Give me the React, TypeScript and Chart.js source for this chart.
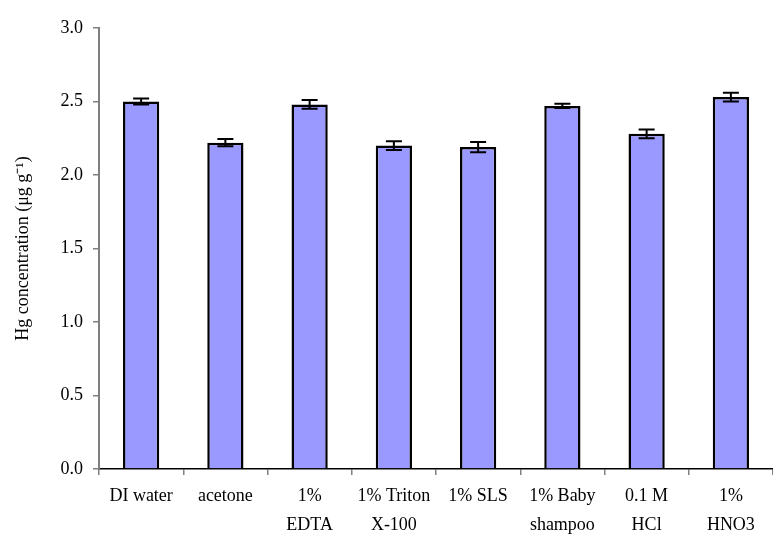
import { useEffect, useRef } from 'react';
import { Chart, registerables } from 'chart.js';

Chart.register(...registerables);

// Washing agents tested (multi-line labels as printed under each bar)
const categories: string[][] = [
  ['DI water'],
  ['acetone'],
  ['1%', 'EDTA'],
  ['1% Triton', 'X-100'],
  ['1% SLS'],
  ['1% Baby', 'shampoo'],
  ['0.1 M', 'HCl'],
  ['1%', 'HNO3'],
];

// Mean Hg concentration (µg g-1) and standard deviation for each agent
const hgMeans = [2.5, 2.22, 2.48, 2.2, 2.19, 2.47, 2.28, 2.53];
const hgErrors = [0.02, 0.025, 0.03, 0.03, 0.035, 0.015, 0.03, 0.03];

// Value axis range and step
const yMin = 0;
const yMax = 3.0;
const yStep = 0.5;

const FONT = "'Liberation Serif', 'Times New Roman', serif";

// Draws symmetric error bars with caps on top of each bar
const errorBarsPlugin = {
  id: 'errorBars',
  afterDatasetsDraw(chart: any) {
    const { ctx } = chart;
    const y = chart.scales.y;
    const meta = chart.getDatasetMeta(0);
    const cap = 8;
    ctx.save();
    ctx.strokeStyle = '#000000';
    ctx.lineWidth = 2;
    meta.data.forEach((bar: any, i: number) => {
      const x = bar.x;
      const top = y.getPixelForValue(hgMeans[i] + hgErrors[i]);
      const bot = y.getPixelForValue(hgMeans[i] - hgErrors[i]);
      ctx.beginPath();
      ctx.moveTo(x, top);
      ctx.lineTo(x, bot);
      ctx.moveTo(x - cap, top);
      ctx.lineTo(x + cap, top);
      ctx.moveTo(x - cap, bot);
      ctx.lineTo(x + cap, bot);
      ctx.stroke();
    });
    ctx.restore();
  },
};

export default function App() {
  const canvasRef = useRef<HTMLCanvasElement | null>(null);

  useEffect(() => {
    if (!canvasRef.current) return;
    Chart.defaults.font.family = FONT;
    Chart.defaults.color = '#000000';

    const chart = new Chart(canvasRef.current, {
      type: 'bar',
      data: {
        labels: categories,
        datasets: [
          {
            data: hgMeans,
            backgroundColor: '#9999FF',
            borderColor: '#000000',
            borderWidth: 2.5,
            barPercentage: 0.43,
            categoryPercentage: 1.0,
          },
        ],
      },
      options: {
        animation: false,
        responsive: false,
        maintainAspectRatio: false,
        layout: { padding: { top: 28, right: 0, bottom: 0, left: 0 } },
        plugins: {
          legend: { display: false },
          tooltip: { enabled: false },
        },
        scales: {
          x: {
            offset: true,
            grid: {
              offset: true,
              drawOnChartArea: false,
              drawTicks: true,
              tickLength: 6,
              color: '#808080',
              lineWidth: 1.5,
            },
            border: { color: '#000000', width: 1.5 },
            ticks: {
              font: { family: FONT, size: 18, lineHeight: 1.62 },
              color: '#000000',
              padding: 7,
              maxRotation: 0,
              autoSkip: false,
            },
            afterFit(scale: any) {
              scale.height = 65;
            },
          },
          y: {
            min: yMin,
            max: yMax,
            grid: {
              drawOnChartArea: false,
              drawTicks: true,
              tickLength: 6,
              color: '#808080',
              lineWidth: 1.5,
            },
            border: { color: '#808080', width: 2 },
            ticks: {
              stepSize: yStep,
              font: { family: FONT, size: 18 },
              color: '#000000',
              padding: 10,
              callback: (v: any) => Number(v).toFixed(1),
            },
            title: {
              display: true,
              text: 'Hg concentration (μg g⁻¹)',
              font: { family: FONT, size: 18 },
              color: '#000000',
              padding: { top: 12, bottom: 0 },
            },
            afterFit(scale: any) {
              scale.width = 99;
            },
          },
        },
      },
      plugins: [errorBarsPlugin],
    });

    return () => chart.destroy();
  }, []);

  return (
    <div style={{ position: 'fixed', left: 0, top: 0, width: 773, height: 534, background: '#ffffff' }}>
      <canvas ref={canvasRef} width={773} height={534} style={{ display: 'block', width: 773, height: 534 }} />
    </div>
  );
}
